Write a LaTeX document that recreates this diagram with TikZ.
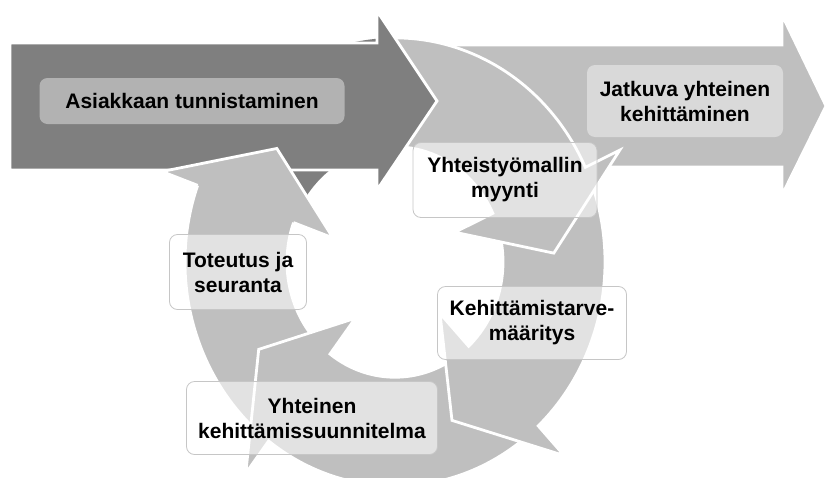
\documentclass[tikz,border=0pt]{standalone}
\usepackage{fontspec}
\setmainfont{Liberation Sans}

\definecolor{darkarrow}{HTML}{7F7F7F}
\definecolor{lightarrow}{HTML}{BFBFBF}
\definecolor{darkbox}{HTML}{B2B2B2}
\definecolor{lightbox}{HTML}{D9D9D9}

% ring radii
\newcommand{\rIn}{108}
\newcommand{\rOut}{210}
\newcommand{\rMid}{159}
\newcommand{\rHin}{66}
\newcommand{\rHout}{248}

\begin{document}
\begin{tikzpicture}[x=1pt, y=-1pt,
    ring/.style={shift={(395,262)}, yscale=-1.067},
    seg/.style={fill=lightarrow, draw=white, line width=2.8pt},
    txt/.style={align=center, inner sep=0pt, font=\bfseries\fontsize{21}{25}\selectfont},
    cycbox/.style={txt, rounded corners=8pt, fill=white, fill opacity=0.55, text opacity=1, draw=gray!45, line width=0.8pt}]
    \useasboundingbox (0,0) rectangle (827,477);

    % light arrow to the right
    \filldraw[seg] (455,45) -- (782,45) -- (782,15) -- (826,106) -- (782,195) -- (782,167) -- (455,167) -- cycle;

    % cycle: start / head back / tip
    \foreach \s/\b/\t in {-130/-200/-222, -50/-127/-149, 22/-47/-69, 157/25/3} {
            \filldraw[seg, ring] (\s:\rOut) arc[start angle=\s, end angle=\b, radius=\rOut] -- (\b:\rHout) -- (\t:\rMid)
                -- (\b:\rHin) -- (\b:\rIn) arc[start angle=\b, end angle=\s, radius=\rIn] -- cycle;
        }

    % dark part of the ring under the first arrow
    \begin{scope}
        \clip (0,0) rectangle (377,477);
        \fill[darkarrow, ring] (157:\rOut) arc[start angle=157, end angle=25, radius=\rOut] -- (25:\rIn)
            arc[start angle=25, end angle=157, radius=\rIn] -- cycle;
    \end{scope}

    % dark arrow
    \filldraw[fill=darkarrow, draw=white, line width=2.8pt] (10,43) -- (377,43) -- (377,11) -- (437,101) -- (377,190) -- (377,170) -- (10,170) -- cycle;

    % head of the last segment again on top
    \fill[lightarrow, ring] (-200:\rOut) -- (-200:\rHout) -- (-222:\rMid) -- (-200:\rHin) -- (-200:\rIn) -- cycle;
    \draw[white, line width=2.8pt, ring] (-200:\rOut) -- (-200:\rHout) -- (-222:\rMid) -- (-200:\rHin) -- (-200:\rIn);

    % texts
    \node[txt, fill=darkbox, rounded corners=8pt, minimum width=305pt, minimum height=46pt] (asiakas) at (192,101) {Asiakkaan tunnistaminen};
    \node[txt, fill=lightbox, rounded corners=8pt, minimum width=196pt, minimum height=72pt] (jatkuva) at (685,101) {Jatkuva yhteinen\\kehittäminen};
    \node[cycbox, minimum width=184pt, minimum height=75pt] (myynti) at (505,180) {Yhteistyömallin\\myynti};
    \node[cycbox, minimum width=189pt, minimum height=73pt] (tarve) at (532,323) {Kehittämistarve-\\määritys};
    \node[cycbox, minimum width=251pt, minimum height=73pt] (suunnitelma) at (312,418) {Yhteinen\\kehittämissuunnitelma};
    \node[cycbox, minimum width=137pt, minimum height=75pt] (toteutus) at (238,272) {Toteutus ja\\seuranta};
\end{tikzpicture}
\end{document}
